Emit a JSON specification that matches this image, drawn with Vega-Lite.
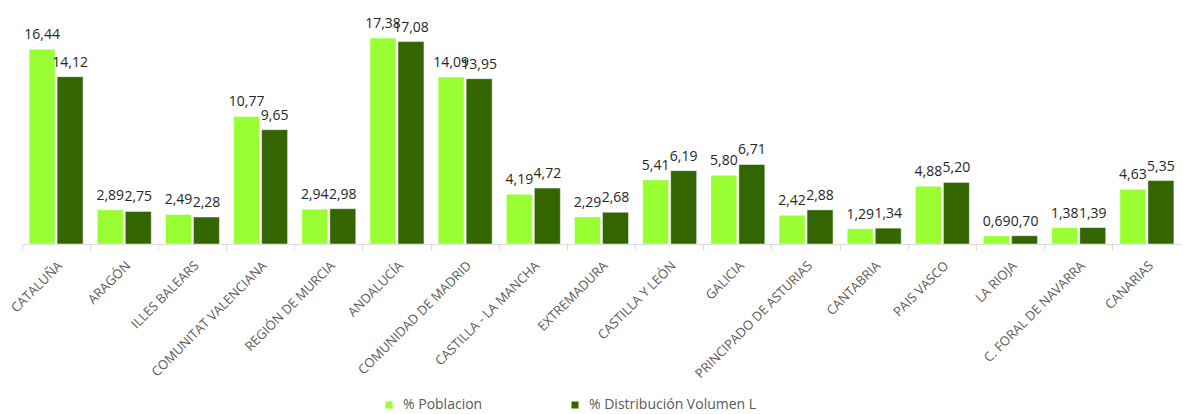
{
  "$schema": "https://vega.github.io/schema/vega-lite/v6.json",
  "width": 1159,
  "height": 237,
  "autosize": {"type": "none"},
  "padding": {"left": 22, "top": 7, "right": 2, "bottom": 170},
  "config": {
    "locale": {"number": {"decimal": ",", "thousands": ".", "grouping": [3], "currency": ["", " €"]}},
    "view": {"stroke": null},
    "font": "Open Sans"
  },
  "data": {
    "values": [
      {"region": "CATALUÑA", "serie": "% Poblacion", "valor": 16.44},
      {"region": "CATALUÑA", "serie": "% Distribución Volumen L", "valor": 14.12},
      {"region": "ARAGÓN", "serie": "% Poblacion", "valor": 2.89},
      {"region": "ARAGÓN", "serie": "% Distribución Volumen L", "valor": 2.75},
      {"region": "ILLES BALEARS", "serie": "% Poblacion", "valor": 2.49},
      {"region": "ILLES BALEARS", "serie": "% Distribución Volumen L", "valor": 2.28},
      {"region": "COMUNITAT VALENCIANA", "serie": "% Poblacion", "valor": 10.77},
      {"region": "COMUNITAT VALENCIANA", "serie": "% Distribución Volumen L", "valor": 9.65},
      {"region": "REGIÓN DE MURCIA", "serie": "% Poblacion", "valor": 2.94},
      {"region": "REGIÓN DE MURCIA", "serie": "% Distribución Volumen L", "valor": 2.98},
      {"region": "ANDALUCÍA", "serie": "% Poblacion", "valor": 17.38},
      {"region": "ANDALUCÍA", "serie": "% Distribución Volumen L", "valor": 17.08},
      {"region": "COMUNIDAD DE MADRID", "serie": "% Poblacion", "valor": 14.09},
      {"region": "COMUNIDAD DE MADRID", "serie": "% Distribución Volumen L", "valor": 13.95},
      {"region": "CASTILLA - LA MANCHA", "serie": "% Poblacion", "valor": 4.19},
      {"region": "CASTILLA - LA MANCHA", "serie": "% Distribución Volumen L", "valor": 4.72},
      {"region": "EXTREMADURA", "serie": "% Poblacion", "valor": 2.29},
      {"region": "EXTREMADURA", "serie": "% Distribución Volumen L", "valor": 2.68},
      {"region": "CASTILLA Y LEÓN", "serie": "% Poblacion", "valor": 5.41},
      {"region": "CASTILLA Y LEÓN", "serie": "% Distribución Volumen L", "valor": 6.19},
      {"region": "GALICIA", "serie": "% Poblacion", "valor": 5.80},
      {"region": "GALICIA", "serie": "% Distribución Volumen L", "valor": 6.71},
      {"region": "PRINCIPADO DE ASTURIAS", "serie": "% Poblacion", "valor": 2.42},
      {"region": "PRINCIPADO DE ASTURIAS", "serie": "% Distribución Volumen L", "valor": 2.88},
      {"region": "CANTABRIA", "serie": "% Poblacion", "valor": 1.29},
      {"region": "CANTABRIA", "serie": "% Distribución Volumen L", "valor": 1.34},
      {"region": "PAIS VASCO", "serie": "% Poblacion", "valor": 4.88},
      {"region": "PAIS VASCO", "serie": "% Distribución Volumen L", "valor": 5.20},
      {"region": "LA RIOJA", "serie": "% Poblacion", "valor": 0.69},
      {"region": "LA RIOJA", "serie": "% Distribución Volumen L", "valor": 0.70},
      {"region": "C. FORAL DE NAVARRA", "serie": "% Poblacion", "valor": 1.38},
      {"region": "C. FORAL DE NAVARRA", "serie": "% Distribución Volumen L", "valor": 1.39},
      {"region": "CANARIAS", "serie": "% Poblacion", "valor": 4.63},
      {"region": "CANARIAS", "serie": "% Distribución Volumen L", "valor": 5.35}
    ]
  },
  "encoding": {
    "x": {
      "field": "region",
      "type": "nominal",
      "sort": null,
      "title": null,
      "scale": {"paddingInner": 0, "paddingOuter": 0},
      "axis": {
        "bandPosition": 0,
        "labelAngle": -45,
        "labelFontSize": 13,
        "labelColor": "#595959",
        "labelPadding": 9,
        "tickSize": 6,
        "tickColor": "#d9d9d9",
        "domainColor": "#d9d9d9",
        "labelOverlap": false,
        "labelLimit": 300
      }
    },
    "xOffset": {
      "field": "serie",
      "sort": ["% Poblacion", "% Distribución Volumen L"],
      "scale": {"paddingInner": 0.071, "paddingOuter": 0.253}
    },
    "y": {
      "field": "valor",
      "type": "quantitative",
      "scale": {"domain": [0, 20], "nice": false},
      "axis": null
    }
  },
  "layer": [
    {
      "mark": {"type": "bar", "stroke": "white", "strokeWidth": 0.5},
      "encoding": {
        "color": {
          "field": "serie",
          "type": "nominal",
          "sort": ["% Poblacion", "% Distribución Volumen L"],
          "scale": {"domain": ["% Poblacion", "% Distribución Volumen L"], "range": ["#99FF33", "#336600"]},
          "legend": {
            "title": null,
            "orient": "none",
            "direction": "horizontal",
            "legendX": 360,
            "legendY": 391,
            "symbolType": "square",
            "symbolSize": 50,
            "symbolStrokeWidth": 0,
            "labelFontSize": 14,
            "labelColor": "#595959",
            "labelLimit": 400,
            "columnPadding": 85,
            "labelOffset": 7
          }
        }
      }
    },
    {
      "mark": {"type": "text", "baseline": "bottom", "dy": -7, "fontSize": 14, "color": "#262626"},
      "encoding": {
        "text": {"field": "valor", "type": "quantitative", "format": ".2f"}
      }
    }
  ]
}
